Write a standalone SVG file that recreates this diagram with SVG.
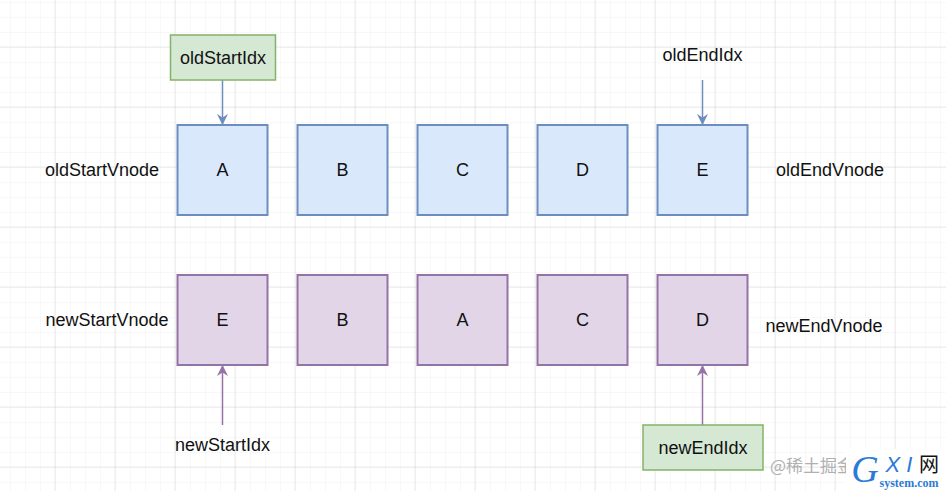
<svg xmlns="http://www.w3.org/2000/svg" width="946" height="491" viewBox="0 0 946 491">
<defs>
<pattern id="minor" x="11" y="3" width="15" height="15" patternUnits="userSpaceOnUse">
<path d="M15 0V15M0 15H15" fill="none" stroke="#f0f0f0" stroke-width="1"/>
</pattern>
<pattern id="major" x="-4.5" y="-12.5" width="60" height="60" patternUnits="userSpaceOnUse">
<path d="M60 0V60M0 60H60" fill="none" stroke="#d6d6d6" stroke-width="1"/>
</pattern>
<marker id="arrB" viewBox="0 0 10 10" refX="9" refY="5" markerWidth="11" markerHeight="11" markerUnits="userSpaceOnUse" orient="auto">
<path d="M0 0L10 5L0 10L3 5Z" fill="#6c8ebf"/>
</marker>
<marker id="arrP" viewBox="0 0 10 10" refX="9" refY="5" markerWidth="11" markerHeight="11" markerUnits="userSpaceOnUse" orient="auto">
<path d="M0 0L10 5L0 10L3 5Z" fill="#9673a6"/>
</marker>
</defs>
<style>
text{font-family:"Liberation Sans",Arial,sans-serif;font-size:18px;fill:#111;text-anchor:middle;dominant-baseline:central}
.old{fill:#dae8fc;stroke:#6c8ebf;stroke-width:2}
.new{fill:#e1d5e7;stroke:#9673a6;stroke-width:2}
.idx{fill:#d5e8d4;stroke:#82b366;stroke-width:1.5}
.cb{stroke:#6c8ebf;stroke-width:1.5;fill:none;marker-end:url(#arrB)}
.cp{stroke:#9673a6;stroke-width:1.5;fill:none;marker-end:url(#arrP)}
</style>
<rect width="946" height="491" fill="#ffffff"/>
<rect width="946" height="491" fill="url(#minor)"/>
<rect width="946" height="491" fill="url(#major)"/>

<g id="connectors">
<path class="cb" d="M222.5 80V124"/>
<path class="cb" d="M702.5 80V124"/>
<path class="cp" d="M222.5 425V366"/>
<path class="cp" d="M702.5 425V366"/>
</g>

<g id="oldStartIdx"><rect class="idx" x="170.5" y="35" width="105" height="45"/><text x="223" y="57.5">oldStartIdx</text></g>
<g id="oldEndIdx"><text x="702.5" y="55">oldEndIdx</text></g>
<g id="oldStartVnode"><text x="102" y="169.5">oldStartVnode</text></g>
<g id="oldEndVnode"><text x="830" y="169.5">oldEndVnode</text></g>

<g id="oldA"><rect class="old" x="177.5" y="125" width="90" height="90"/><text x="222.5" y="170">A</text></g>
<g id="oldB"><rect class="old" x="297.5" y="125" width="90" height="90"/><text x="342.5" y="170">B</text></g>
<g id="oldC"><rect class="old" x="417.5" y="125" width="90" height="90"/><text x="462.5" y="170">C</text></g>
<g id="oldD"><rect class="old" x="537.5" y="125" width="90" height="90"/><text x="582.5" y="170">D</text></g>
<g id="oldE"><rect class="old" x="657.5" y="125" width="90" height="90"/><text x="702.5" y="170">E</text></g>

<g id="newStartVnode"><text x="107" y="319.5">newStartVnode</text></g>
<g id="newEndVnode"><text x="824" y="325.5">newEndVnode</text></g>

<g id="newE"><rect class="new" x="177.5" y="275" width="90" height="90"/><text x="222.5" y="320">E</text></g>
<g id="newB"><rect class="new" x="297.5" y="275" width="90" height="90"/><text x="342.5" y="320">B</text></g>
<g id="newA"><rect class="new" x="417.5" y="275" width="90" height="90"/><text x="462.5" y="320">A</text></g>
<g id="newC"><rect class="new" x="537.5" y="275" width="90" height="90"/><text x="582.5" y="320">C</text></g>
<g id="newD"><rect class="new" x="657.5" y="275" width="90" height="90"/><text x="702.5" y="320">D</text></g>

<g id="newStartIdx"><text x="222.5" y="445">newStartIdx</text></g>
<g id="newEndIdx"><rect class="idx" x="643" y="425" width="120" height="45"/><text x="703" y="447.5">newEndIdx</text></g>

<g id="watermark">
<text x="770" y="464" style="text-anchor:start;font-family:'Noto Sans CJK SC','Liberation Sans',sans-serif;font-size:17px;fill:#b0b0b0">@稀土掘金</text>
<rect x="846" y="449" width="100" height="42" fill="#ffffff"/>
<text x="865" y="469" style="font-family:'Liberation Serif',serif;font-style:italic;font-size:38px;fill:#2a7bd6">G</text>
<text x="899" y="464" style="font-family:'Liberation Sans',sans-serif;font-style:italic;font-size:22px;fill:#2a7bd6">X I</text>
<text x="929" y="463" style="font-family:'Noto Sans CJK SC',sans-serif;font-size:20px;fill:#111">网</text>
<text x="909" y="483" style="font-family:'Liberation Serif',serif;font-weight:bold;font-size:12px;fill:#2a7bd6">system.com</text>
</g>
</svg>
